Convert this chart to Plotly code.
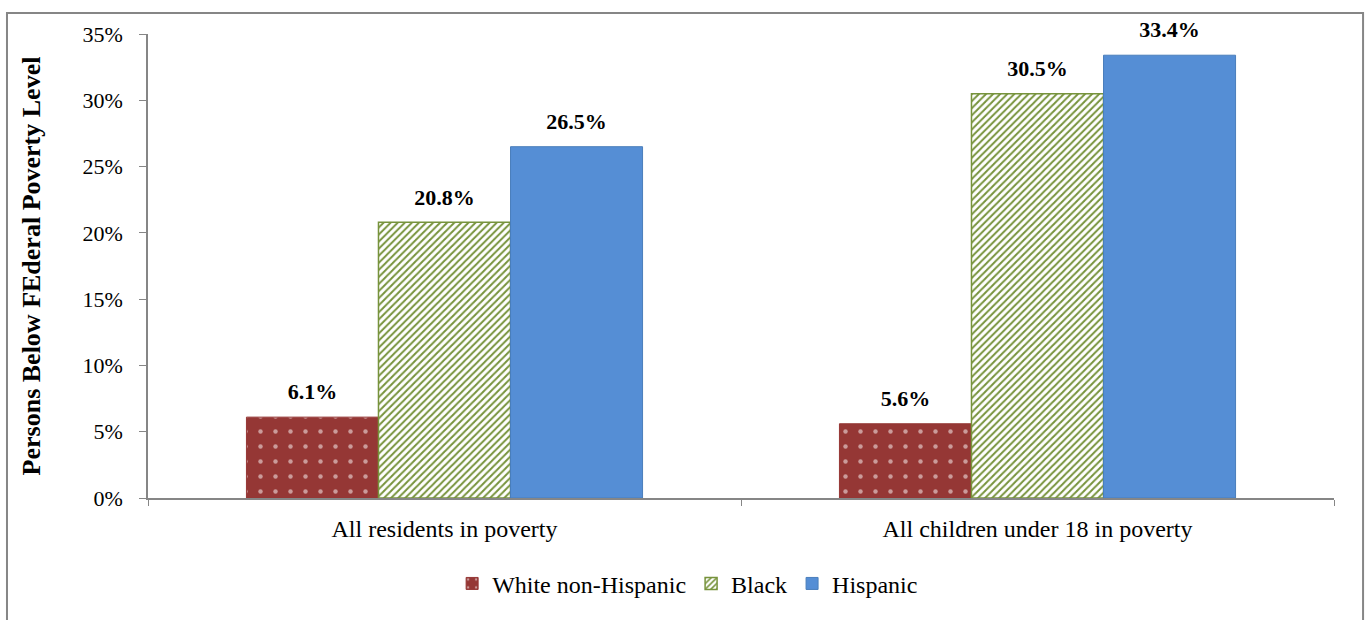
import plotly.graph_objects as go

categories = ["All residents in poverty", "All children under 18 in poverty"]
series_names = ["White non-Hispanic", "Black", "Hispanic"]
white_vals = [6.1, 5.6]
black_vals = [20.8, 30.5]
hispanic_vals = [26.5, 33.4]
y_ticks = [0, 5, 10, 15, 20, 25, 30, 35]
y_tick_labels = [f"{v}%" for v in y_ticks]
y_title = "Persons Below FEderal Poverty Level"

FONT = "Liberation Serif, Times New Roman, serif"
AXIS_GREY = "#868686"
BARGAP = 0.332

fig = go.Figure()

styles = [
    dict(marker=dict(color="#953735", line=dict(color="#953735", width=1),
                     pattern=dict(shape=".", fgcolor="white", bgcolor="#953735",
                                  size=15, solidity=0.07))),
    dict(marker=dict(color="#77933C", line=dict(color="#77933C", width=1.5),
                     pattern=dict(shape="/", fgcolor="#77933C", bgcolor="white",
                                  size=5, solidity=0.4, fillmode="replace"))),
    dict(marker=dict(color="#558ED5", line=dict(color="#4A7EBB", width=1))),
]

all_vals = [white_vals, black_vals, hispanic_vals]
for i, (name, vals, st) in enumerate(zip(series_names, all_vals, styles)):
    fig.add_trace(go.Bar(
        x=categories, y=vals, name=name, offsetgroup=str(i),
        **st,
    ))

# value labels, grouped the same way as the bars
for i, (name, vals) in enumerate(zip(series_names, all_vals)):
    fig.add_trace(go.Scatter(
        x=categories, y=vals, mode="markers+text", offsetgroup=str(i),
        text=[f"<b>{v:.1f}%</b>" for v in vals],
        textposition="top center",
        textfont=dict(family=FONT, size=22, color="black"),
        marker=dict(size=18, opacity=0),
        showlegend=False, hoverinfo="skip", cliponaxis=False,
    ))

fig.update_layout(
    width=1366, height=620,
    margin=dict(l=148, r=32, t=34, b=122),
    paper_bgcolor="white", plot_bgcolor="white",
    barmode="group", bargap=BARGAP, bargroupgap=0,
    scattermode="group", scattergap=BARGAP,
    font=dict(family=FONT, size=22, color="black"),
    showlegend=True,
    legend=dict(orientation="h", x=0.455, xanchor="center", y=-0.185, yanchor="middle",
                font=dict(family=FONT, size=24), traceorder="normal", itemwidth=30),
)

fig.update_xaxes(
    showline=True, linecolor=AXIS_GREY, linewidth=1.5,
    ticks="outside", tickson="boundaries", ticklen=6, tickcolor=AXIS_GREY,
    tickfont=dict(family=FONT, size=24, color="black"), showgrid=False,
    ticklabelstandoff=8,
)
fig.update_yaxes(
    range=[0, 35], tickmode="array", tickvals=y_ticks, ticktext=y_tick_labels,
    showline=True, linecolor=AXIS_GREY, linewidth=1.5,
    ticks="outside", ticklen=7, tickcolor=AXIS_GREY,
    tickfont=dict(family=FONT, size=22, color="black"), showgrid=False, zeroline=False,
    ticklabelstandoff=12,
    title=dict(text="<b>" + y_title + "</b>", font=dict(family=FONT, size=26, color="black"),
               standoff=34),
)

# outer chart frame (extends beyond the bottom of the view)
fig.add_shape(type="rect", xref="paper", yref="paper",
              x0=-0.1189, x1=1.0245, y0=-0.30, y1=1.0453,
              line=dict(color=AXIS_GREY, width=2), fillcolor="rgba(0,0,0,0)", layer="below")

fig.write_html("out.html")
